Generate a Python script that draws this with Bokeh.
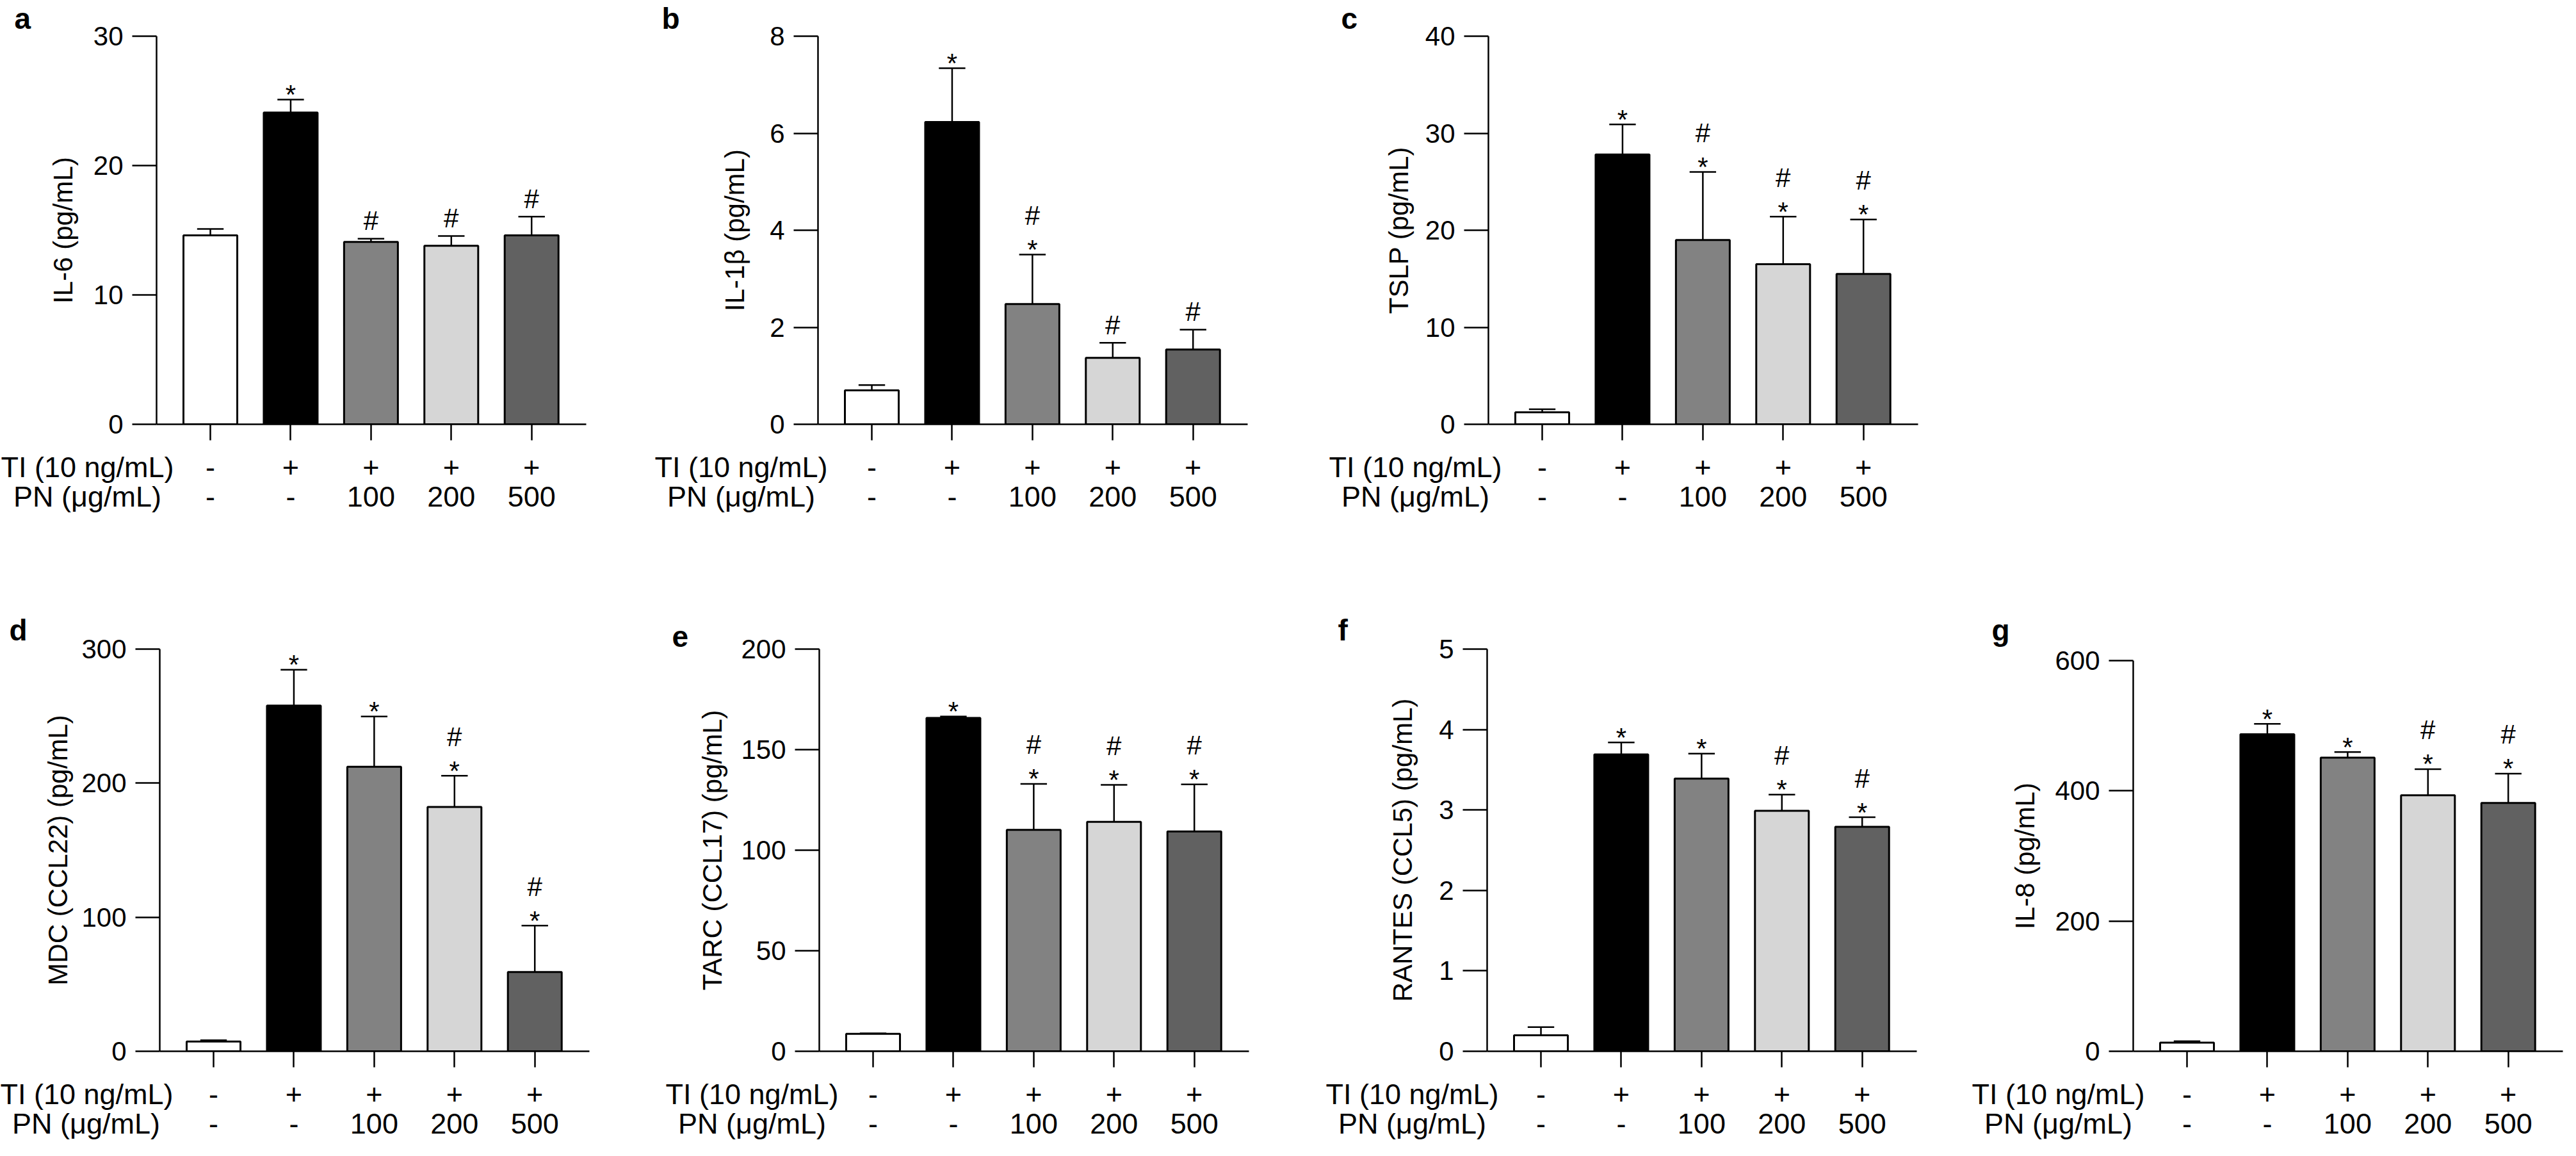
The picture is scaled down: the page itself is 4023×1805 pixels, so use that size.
from bokeh.plotting import figure
from bokeh.models import FixedTicker, Title, LinearAxis
from bokeh.layouts import column, row
from bokeh.embed import file_html
from bokeh.resources import INLINE
from bokeh.core.properties import value

# ---------------- data ----------------
groups = [0, 1, 2, 3, 4]
ti_row = ["-", "+", "+", "+", "+"]
pn_row = ["-", "-", "100", "200", "500"]
ti_header = "TI (10 ng/mL)"
pn_header = "PN (μg/mL)"
bar_colors = ["#FFFFFF", "#000000", "#828282", "#D6D6D6", "#616161"]

il6_mean = [14.6, 24.1, 14.1, 13.8, 14.6]
il6_sem = [0.5, 1.0, 0.25, 0.75, 1.45]
il6_star = [0, 1, 0, 0, 0]
il6_hash = [0, 0, 1, 1, 1]
il6_ticks = [0, 10, 20, 30]

il1b_mean = [0.70, 6.23, 2.48, 1.37, 1.54]
il1b_sem = [0.11, 1.11, 1.02, 0.31, 0.41]
il1b_star = [0, 1, 1, 0, 0]
il1b_hash = [0, 0, 1, 1, 1]
il1b_ticks = [0, 2, 4, 6, 8]

tslp_mean = [1.24, 27.8, 19.0, 16.5, 15.5]
tslp_sem = [0.31, 3.1, 7.0, 4.9, 5.6]
tslp_star = [0, 1, 1, 1, 1]
tslp_hash = [0, 0, 1, 1, 1]
tslp_ticks = [0, 10, 20, 30, 40]

mdc_mean = [7.3, 257.8, 212.2, 182.3, 59.1]
mdc_sem = [1.0, 26.8, 37.5, 23.2, 34.6]
mdc_star = [0, 1, 1, 1, 1]
mdc_hash = [0, 0, 0, 1, 1]
mdc_ticks = [0, 100, 200, 300]

tarc_mean = [8.7, 165.8, 110.1, 114.1, 109.3]
tarc_sem = [0.2, 0.7, 22.9, 18.4, 23.4]
tarc_star = [0, 1, 1, 1, 1]
tarc_hash = [0, 0, 1, 1, 1]
tarc_ticks = [0, 50, 100, 150, 200]

rantes_mean = [0.20, 3.69, 3.39, 2.99, 2.79]
rantes_sem = [0.10, 0.15, 0.31, 0.20, 0.12]
rantes_star = [0, 1, 1, 1, 1]
rantes_hash = [0, 0, 0, 1, 1]
rantes_ticks = [0, 1, 2, 3, 4, 5]

il8_mean = [13.4, 486.9, 451.0, 393.1, 381.4]
il8_sem = [2.1, 16.0, 8.6, 40.2, 45.0]
il8_star = [0, 1, 1, 1, 1]
il8_hash = [0, 0, 0, 1, 1]
il8_ticks = [0, 200, 400, 600]

FONT = "Liberation Sans"
FS = "42px"
ROW_FS = "45px"
FRAME_W = 671
X0, X1 = -0.67, 4.68
SP = FRAME_W / (X1 - X0)
CHART_B = 30
STRIP_T = 59
STRIP_F = 2


def style_common(p):
    p.grid.visible = False
    p.outline_line_color = None
    p.background_fill_color = "white"
    p.border_fill_color = "white"
    try:
        p.frame_align = False
    except Exception:
        pass


def style_row_axis(ax, ticks, overrides, standoff):
    ax.ticker = FixedTicker(ticks=ticks)
    ax.major_label_overrides = overrides
    ax.axis_line_color = None
    ax.major_tick_line_color = None
    ax.minor_tick_line_color = None
    ax.major_tick_in = 0
    ax.major_tick_out = 0
    ax.major_label_standoff = standoff
    ax.major_label_text_font = FONT
    ax.major_label_text_font_size = ROW_FS
    ax.major_label_text_color = "black"


def make_panel(letter, ylabel, ticks, means, sems, stars, hashes,
               L, R, T, frame_h, strip_h, letter_off, letter_standoff, header_dx, lab_standoff):
    width = L + FRAME_W + R
    p = figure(width=width, height=T + frame_h + CHART_B, output_backend="svg",
               toolbar_location=None, x_range=(X0, X1), y_range=(0, ticks[-1]),
               min_border_left=L, min_border_right=R,
               min_border_top=T, min_border_bottom=CHART_B)
    style_common(p)

    tops = [m + s for m, s in zip(means, sems)]
    p.segment(x0=groups, y0=means, x1=groups, y1=tops, line_color="black", line_width=2.5)
    p.segment(x0=[g - 0.165 for g in groups], y0=tops, x1=[g + 0.165 for g in groups], y1=tops,
              line_color="black", line_width=2.5)
    p.vbar(x=groups, top=means, bottom=0, width=0.67, fill_color=bar_colors,
           line_color="black", line_width=3)

    sx = [g for g, s in zip(groups, stars) if s]
    sy = [t for t, s in zip(tops, stars) if s]
    p.text(x=sx, y=sy, text=["*"] * len(sx), text_align="center", text_baseline="alphabetic",
           y_offset=-8, text_font=value(FONT), text_font_size=FS, text_color="black")
    hx1 = [g for g, h, s in zip(groups, hashes, stars) if h and not s]
    hy1 = [t for t, h, s in zip(tops, hashes, stars) if h and not s]
    p.text(x=hx1, y=hy1, text=["#"] * len(hx1), text_align="center", text_baseline="alphabetic",
           y_offset=-28, text_font=value(FONT), text_font_size=FS, text_color="black")
    hx2 = [g for g, h, s in zip(groups, hashes, stars) if h and s]
    hy2 = [t for t, h, s in zip(tops, hashes, stars) if h and s]
    p.text(x=hx2, y=hy2, text=["#"] * len(hx2), text_align="center", text_baseline="alphabetic",
           y_offset=-61, text_font=value(FONT), text_font_size=FS, text_color="black")

    ya = p.yaxis[0]
    ya.ticker = FixedTicker(ticks=ticks)
    ya.minor_tick_line_color = None
    ya.major_tick_in = 0
    ya.major_tick_out = 38
    ya.major_tick_line_width = 2.5
    ya.axis_line_width = 2.5
    ya.major_label_text_font = FONT
    ya.major_label_text_font_size = FS
    ya.major_label_text_color = "black"
    ya.major_label_standoff = 14
    ya.axis_label = ylabel
    ya.axis_label_text_font = FONT
    ya.axis_label_text_font_size = FS
    ya.axis_label_text_font_style = "normal"
    ya.axis_label_text_color = "black"
    ya.axis_label_standoff = lab_standoff

    # chart x axis: line and tick marks only (labels live on the strip below)
    xa = p.xaxis[0]
    xa.ticker = FixedTicker(ticks=groups)
    xa.minor_tick_line_color = None
    xa.major_tick_in = 0
    xa.major_tick_out = 25
    xa.major_tick_line_width = 2.5
    xa.axis_line_width = 2.5
    xa.major_label_text_font_size = "1px"
    xa.major_label_text_color = None
    xa.major_label_standoff = 0

    p.add_layout(Title(text=letter, align="left", offset=letter_off, standoff=letter_standoff,
                       vertical_align="top", text_font=FONT, text_font_size="46px",
                       text_font_style="bold", text_color="black"), "above")

    # strip under the chart: TI row on an axis above a thin frame, PN row on the axis below
    hdr_x = round(X0 + header_dx / SP, 4)
    s = figure(width=width, height=strip_h, output_backend="svg", toolbar_location=None,
               x_range=(X0 - L / SP, X1 + R / SP), y_range=(0, 1), y_axis_location=None,
               min_border_left=0, min_border_right=0, min_border_top=STRIP_T,
               min_border_bottom=strip_h - STRIP_T - STRIP_F)
    style_common(s)
    ti_over = {hdr_x: ti_header}
    ti_over.update({g: t for g, t in zip(groups, ti_row)})
    pn_over = {hdr_x: pn_header}
    pn_over.update({g: n for g, n in zip(groups, pn_row)})
    top_axis = LinearAxis()
    s.add_layout(top_axis, "above")
    style_row_axis(top_axis, [hdr_x] + groups, ti_over, -3)
    style_row_axis(s.xaxis[0] if s.xaxis[0] is not top_axis else s.xaxis[1],
                   [hdr_x] + groups, pn_over, -4)
    return p, s


pa, sa_ = make_panel("a", "IL-6 (pg/mL)", il6_ticks, il6_mean, il6_sem, il6_star, il6_hash,
                     244, 97, 56, 606, 170, -222, 0, -108, 21)
pb, sb_ = make_panel("b", "IL-1β (pg/mL)", il1b_ticks, il1b_mean, il1b_sem, il1b_star, il1b_hash,
                     265, 111, 56, 606, 170, -244, 0, -120, 28)
pc, sc_ = make_panel("c", "TSLP (pg/mL)", tslp_ticks, tslp_mean, tslp_sem, tslp_star, tslp_hash,
                     265, 20, 56, 606, 170, -230, 0, -114, 15)
pd, sd_ = make_panel("d", "MDC (CCL22) (pg/mL)", mdc_ticks, mdc_mean, mdc_sem, mdc_star, mdc_hash,
                     249, 94, 151, 628, 118, -235, 4, -115, 10)
pe, se_ = make_panel("e", "TARC (CCL17) (pg/mL)", tarc_ticks, tarc_mean, tarc_sem, tarc_star, tarc_hash,
                     265, 107, 151, 628, 118, -230, 4, -105, 18)
pf, sf_ = make_panel("f", "RANTES (CCL5) (pg/mL)", rantes_ticks, rantes_mean, rantes_sem, rantes_star, rantes_hash,
                     265, 73, 151, 628, 118, -233, 4, -117, 30)
pg, sg_ = make_panel("g", "IL-8 (pg/mL)", il8_ticks, il8_mean, il8_sem, il8_star, il8_hash,
                     265, 5, 169, 610, 118, -221, 40, -117, 20)

layout = column(
    row(pa, pb, pc, spacing=0),
    row(sa_, sb_, sc_, spacing=0),
    row(pd, pe, pf, pg, spacing=0),
    row(sd_, se_, sf_, sg_, spacing=0),
    spacing=0,
)

open("out.html", "w").write(file_html(layout, INLINE))
